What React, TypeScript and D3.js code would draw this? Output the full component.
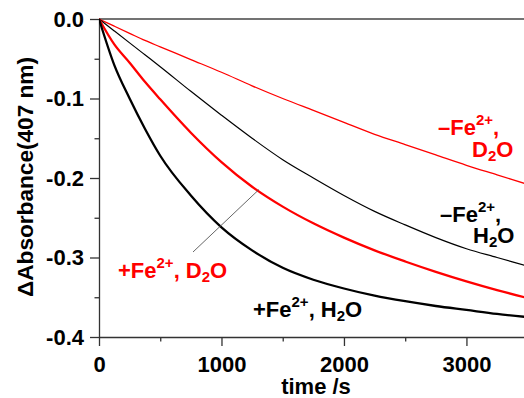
import { useEffect, useRef } from 'react';
import * as d3 from 'd3';

// time points (s)
const times = [0, 125, 250, 375, 500, 750, 1000, 1250, 1500, 1750, 2000, 2250, 2500, 2750, 3000, 3250, 3500];

// ΔAbsorbance at 407 nm
const plusFeH2O = [0, -0.058, -0.1, -0.138, -0.172, -0.222, -0.262, -0.291, -0.313, -0.328, -0.339, -0.348, -0.355, -0.361, -0.366, -0.371, -0.375];
const plusFeD2O = [0, -0.032, -0.055, -0.079, -0.101, -0.143, -0.18, -0.211, -0.236, -0.257, -0.275, -0.291, -0.305, -0.318, -0.33, -0.341, -0.351];
const minusFeH2O = [0, -0.015, -0.03, -0.045, -0.06, -0.091, -0.121, -0.15, -0.177, -0.2, -0.222, -0.242, -0.259, -0.275, -0.289, -0.3, -0.311];
const minusFeD2O = [0, -0.009, -0.018, -0.027, -0.035, -0.051, -0.067, -0.084, -0.1, -0.115, -0.13, -0.145, -0.158, -0.171, -0.184, -0.196, -0.208];

const xMajor = [0, 1000, 2000, 3000];
const xMinor = [500, 1500, 2500];
const yMajor = [0, -0.1, -0.2, -0.3, -0.4];
const yMinor = [-0.05, -0.15, -0.25, -0.35];

const W = 524;
const H = 398;
const FONT = 'Arial, "Liberation Sans", sans-serif';
const FS = 22;
const FS_SMALL = 15;

export default function App() {
  const svgRef = useRef<SVGSVGElement>(null);

  useEffect(() => {
    if (!svgRef.current) return;
    const svg = d3.select(svgRef.current);
    svg.selectAll('*').remove();

    const margin = { top: 19, right: 0, bottom: 61, left: 99 };
    const x = d3.scaleLinear().domain([0, 3470]).range([margin.left, W - margin.right]);
    const y = d3.scaleLinear().domain([0, -0.4]).range([margin.top, H - margin.bottom]);

    svg
      .append('defs')
      .append('clipPath')
      .attr('id', 'plot-clip')
      .append('rect')
      .attr('x', margin.left)
      .attr('y', margin.top - 3)
      .attr('width', W - margin.left)
      .attr('height', H - margin.bottom - margin.top + 3);

    const styleAxis = (g: d3.Selection<SVGGElement, unknown, null, undefined>) => {
      g.select('.domain').attr('stroke', '#333').attr('stroke-width', 1.3);
      g.selectAll('.tick line').attr('stroke', '#333').attr('stroke-width', 1.3);
      g.selectAll('.tick text')
        .attr('fill', '#000')
        .attr('font-size', FS)
        .attr('font-weight', 'bold')
        .attr('font-family', FONT);
    };

    // minor ticks
    svg
      .append('g')
      .attr('transform', `translate(0,${y(-0.4)})`)
      .call(d3.axisBottom(x).tickValues(xMinor).tickSize(4.5).tickFormat(() => ''))
      .call((g) => {
        styleAxis(g);
        g.select('.domain').remove();
      });
    svg
      .append('g')
      .attr('transform', `translate(${margin.left},0)`)
      .call(d3.axisLeft(y).tickValues(yMinor).tickSize(4.5).tickFormat(() => ''))
      .call((g) => {
        styleAxis(g);
        g.select('.domain').remove();
      });

    // major axes
    svg
      .append('g')
      .attr('transform', `translate(0,${y(-0.4)})`)
      .call(
        d3
          .axisBottom(x)
          .tickValues(xMajor)
          .tickSize(9)
          .tickSizeOuter(0)
          .tickPadding(10)
          .tickFormat((v) => d3.format('d')(Number(v)))
      )
      .call(styleAxis);
    svg
      .append('g')
      .attr('transform', `translate(${margin.left},0)`)
      .call(
        d3
          .axisLeft(y)
          .tickValues(yMajor)
          .tickSize(9)
          .tickSizeOuter(0)
          .tickPadding(6)
          .tickFormat((v) => d3.format('.1f')(Number(v)).replace('−', '-'))
      )
      .call(styleAxis);

    // zero line along the top
    svg
      .append('line')
      .attr('x1', x(0))
      .attr('x2', W)
      .attr('y1', y(0))
      .attr('y2', y(0))
      .attr('stroke', '#444')
      .attr('stroke-width', 1.5);

    const line = d3
      .line<number>()
      .x((_, i) => x(times[i]))
      .y((d) => y(d))
      .curve(d3.curveMonotoneX);

    const series = [
      { values: minusFeD2O, color: '#ff0000', width: 1.3 },
      { values: minusFeH2O, color: '#000', width: 1.2 },
      { values: plusFeD2O, color: '#ff0000', width: 2.3 },
      { values: plusFeH2O, color: '#000', width: 2.3 },
    ];

    svg
      .append('g')
      .attr('clip-path', 'url(#plot-clip)')
      .selectAll('path')
      .data(series)
      .join('path')
      .attr('d', (s) => line(s.values))
      .attr('fill', 'none')
      .attr('stroke', (s) => s.color)
      .attr('stroke-width', (s) => s.width);

    // pointer to +Fe2+, D2O curve
    svg
      .append('line')
      .attr('x1', 193)
      .attr('y1', 252)
      .attr('x2', 259)
      .attr('y2', 189.5)
      .attr('stroke', '#555')
      .attr('stroke-width', 0.9);

    // axis titles
    svg
      .append('text')
      .attr('x', 316)
      .attr('y', 393.5)
      .attr('text-anchor', 'middle')
      .attr('font-size', FS)
      .attr('font-weight', 'bold')
      .attr('font-family', FONT)
      .text('time /s');

    svg
      .append('text')
      .attr('transform', `translate(33,177) rotate(-90)`)
      .attr('text-anchor', 'middle')
      .attr('font-size', FS)
      .attr('font-weight', 'bold')
      .attr('font-family', FONT)
      .attr('textLength', 240)
      .attr('lengthAdjust', 'spacingAndGlyphs')
      .text('ΔAbsorbance(407 nm)');

    // labels with sub/superscripts
    const label = (
      px: number,
      py: number,
      color: string,
      parts: { t: string; kind?: 'sup' | 'sub' }[]
    ) => {
      const text = svg
        .append('text')
        .attr('x', px)
        .attr('y', py)
        .attr('fill', color)
        .attr('font-size', FS)
        .attr('font-weight', 'bold')
        .attr('font-family', FONT);
      let shift = 0;
      parts.forEach((p) => {
        const target = p.kind === 'sup' ? -10 : p.kind === 'sub' ? 4 : 0;
        text
          .append('tspan')
          .attr('dy', target - shift)
          .attr('font-size', p.kind ? FS_SMALL : FS)
          .text(p.t);
        shift = target;
      });
    };

    label(438, 135, '#ff0000', [{ t: '–Fe' }, { t: '2+', kind: 'sup' }, { t: ',' }]);
    label(472, 157, '#ff0000', [{ t: 'D' }, { t: '2', kind: 'sub' }, { t: 'O' }]);
    label(440, 222, '#000', [{ t: '–Fe' }, { t: '2+', kind: 'sup' }, { t: ',' }]);
    label(473, 243, '#000', [{ t: 'H' }, { t: '2', kind: 'sub' }, { t: 'O' }]);
    label(118, 278, '#ff0000', [
      { t: '+Fe' },
      { t: '2+', kind: 'sup' },
      { t: ', D' },
      { t: '2', kind: 'sub' },
      { t: 'O' },
    ]);
    label(253, 317, '#000', [
      { t: '+Fe' },
      { t: '2+', kind: 'sup' },
      { t: ', H' },
      { t: '2', kind: 'sub' },
      { t: 'O' },
    ]);
  }, []);

  return (
    <svg
      ref={svgRef}
      width={W}
      height={H}
      viewBox={`0 0 ${W} ${H}`}
      style={{ position: 'absolute', left: 0, top: 0, background: '#fff' }}
    />
  );
}
